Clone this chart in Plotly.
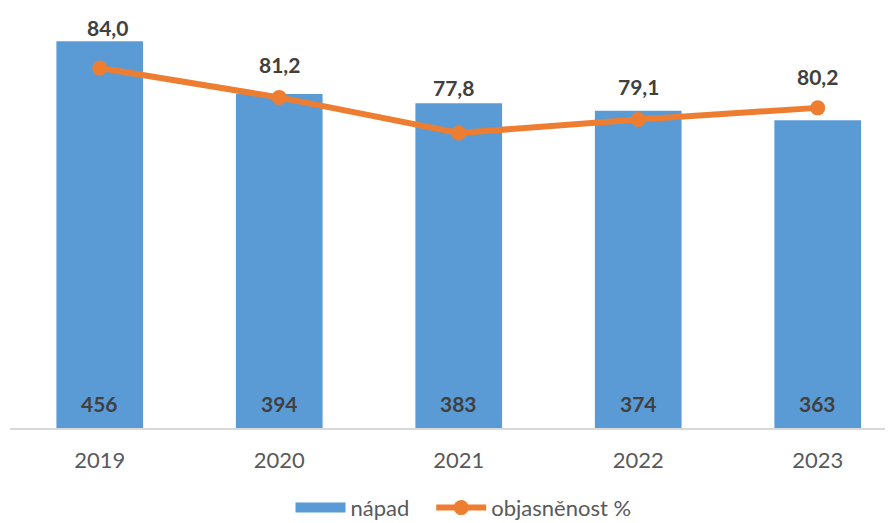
import plotly.graph_objects as go

years = ["2019", "2020", "2021", "2022", "2023"]
napad = [456, 394, 383, 374, 363]
objasnenost = [84.0, 81.2, 77.8, 79.1, 80.2]

line_label_yshift = [41, 33, 46, 33, 31]
line_label_xshift = [8, 0, -5, 0, 0]

BLUE = "#5B9BD5"
ORANGE = "#ED7D31"
LABEL = "#404040"
TICK = "#595959"
FONT = "Lato, 'Open Sans', sans-serif"

def fmt(v):
    return f"{v:.1f}".replace(".", ",")

fig = go.Figure()

fig.add_trace(go.Bar(
    x=years, y=napad, name="nápad", marker=dict(color=BLUE, line=dict(width=0)),
    width=0.483, showlegend=False, hoverinfo="skip",
))
# legend entry for bars (wide swatch like the original)
fig.add_trace(go.Scatter(
    x=[None], y=[None], mode="lines", name="nápad   ",
    line=dict(color=BLUE, width=11), showlegend=True,
))
fig.add_trace(go.Scatter(
    x=years, y=objasnenost, name="objasněnost %", yaxis="y2",
    mode="lines+markers", line=dict(color=ORANGE, width=6),
    marker=dict(color=ORANGE, size=15), hoverinfo="skip",
))

annotations = []
for i, v in enumerate(napad):
    annotations.append(dict(
        x=i, y=0, xref="x", yref="y", text=f"<b>{v}</b>", showarrow=False,
        yanchor="middle", yshift=25, font=dict(family=FONT, size=21, color=LABEL),
    ))
for i, v in enumerate(objasnenost):
    annotations.append(dict(
        x=i, y=v, xref="x", yref="y2", text=f"<b>{fmt(v)}</b>", showarrow=False,
        yanchor="middle", yshift=line_label_yshift[i], xshift=line_label_xshift[i],
        font=dict(family=FONT, size=21, color=LABEL),
    ))

fig.update_layout(
    width=893, height=523,
    margin=dict(l=2, r=0, t=0, b=103, autoexpand=False),
    paper_bgcolor="white", plot_bgcolor="white",
    font=dict(family=FONT, size=20, color=TICK),
    xaxis=dict(
        type="category", range=[-0.5, 4.464], showgrid=False, zeroline=False,
        showline=True, linecolor="#D9D9D9", linewidth=2, automargin=False,
        ticks="", ticklabelstandoff=12,
        tickfont=dict(family=FONT, size=22, color=TICK),
    ),
    yaxis=dict(range=[0, 495.3], visible=False, showgrid=False, zeroline=False,
               automargin=False),
    yaxis2=dict(range=[49.65, 89.73], overlaying="y", visible=False,
                showgrid=False, zeroline=False, automargin=False),
    legend=dict(
        orientation="h", x=0.509, xanchor="center", y=-0.19, yanchor="middle",
        font=dict(family=FONT, size=22, color=TICK), itemwidth=50,
        bgcolor="rgba(0,0,0,0)", traceorder="normal",
    ),
    annotations=annotations,
    bargap=0.5,
)

fig.write_html("out.html")
